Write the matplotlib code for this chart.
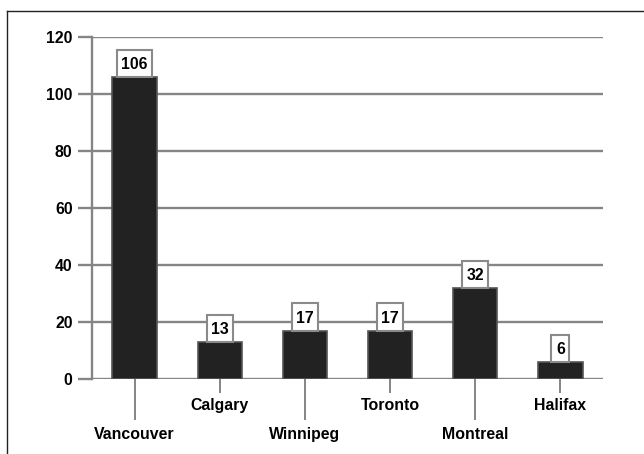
import matplotlib
matplotlib.use("Agg")
import matplotlib.pyplot as plt
from matplotlib.patches import Rectangle
from matplotlib.lines import Line2D

cities = ["Vancouver", "Calgary", "Winnipeg", "Toronto", "Montreal", "Halifax"]
values = [106, 13, 17, 17, 32, 6]
yticks = [0, 20, 40, 60, 80, 100, 120]

plt.rcParams['font.family'] = ['Liberation Sans', 'DejaVu Sans']
plt.rcParams['font.weight'] = 'bold'

W, H = 644, 454
fig = plt.figure(figsize=(W / 100, H / 100), dpi=100)
ax = fig.add_axes([92 / W, (H - 379) / H, (603 - 92) / W, (379 - 37) / H])

grid_c = '#858585'
fs = 11.4
for y in yticks:
    ax.axhline(y, color=grid_c, lw=1.7, zorder=1)

x = list(range(len(cities)))
ax.bar(x, values, width=0.52, color='#222222', edgecolor='#555555', linewidth=1.2, zorder=3)

for xi, v in zip(x, values):
    s = str(v)
    w = 0.11 + 0.1 * len(s)
    ax.add_patch(Rectangle((xi - w / 2, v), w, 9.5, facecolor='white',
                           edgecolor='#8a8a8a', lw=1.5, zorder=4))
    ax.text(xi, v + 4.4, s, ha='center', va='center', fontsize=fs,
            fontweight='bold', zorder=5)

ax.set_xlim(-0.5, 5.5)
ax.set_ylim(0, 120)
ax.set_yticks(yticks)
ax.set_yticklabels([str(t) for t in yticks], fontsize=fs, fontweight='bold')
ax.tick_params(axis='y', length=10, width=1.7, color=grid_c, pad=4)

ax.set_xticks(x[0::2])
ax.set_xticklabels(cities[0::2], fontsize=fs, fontweight='bold')
ax.set_xticks(x[1::2], minor=True)
ax.set_xticklabels(cities[1::2], minor=True, fontsize=fs, fontweight='bold')
ax.tick_params(axis='x', which='major', length=29.5, width=1.4, color=grid_c, pad=5)
ax.tick_params(axis='x', which='minor', length=10, width=1.4, color=grid_c, pad=4)

for side in ['top', 'right', 'bottom']:
    ax.spines[side].set_visible(False)
ax.spines['left'].set_color(grid_c)
ax.spines['left'].set_linewidth(1.7)

# outer frame (left and top)
fig.add_artist(Line2D([7 / W, 7 / W], [0, (H - 11) / H], color='#222222', lw=1.0))
fig.add_artist(Line2D([7 / W, 1], [(H - 11) / H, (H - 11) / H], color='#222222', lw=1.0))

fig.savefig("out.png", dpi=100)
